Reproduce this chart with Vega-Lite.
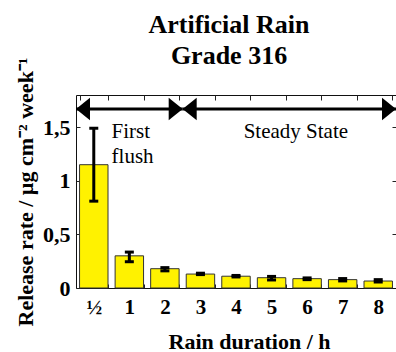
{
  "$schema": "https://vega.github.io/schema/vega-lite/v6.json",
  "width": 320,
  "height": 193,
  "autosize": "none",
  "padding": {"left": 76, "top": 95, "right": 0, "bottom": 64},
  "config": {
    "font": "Liberation Serif",
    "view": {"stroke": "#111", "strokeWidth": 1},
    "axis": {"grid": false, "domain": false, "tickColor": "#222", "labelColor": "#000", "titleColor": "#000"}
  },
  "title": {
    "text": ["Artificial Rain", "Grade 316"],
    "fontSize": 26,
    "fontWeight": "bold",
    "font": "Liberation Serif",
    "color": "#000",
    "lineHeight": 31,
    "anchor": "middle",
    "frame": "group",
    "dx": -7,
    "offset": -12
  },
  "datasets": {
    "rates": [
      {"duration": "½", "rate": 1.15, "lo": 0.81, "hi": 1.49},
      {"duration": "1", "rate": 0.3, "lo": 0.245, "hi": 0.335},
      {"duration": "2", "rate": 0.18, "lo": 0.16, "hi": 0.19},
      {"duration": "3", "rate": 0.13, "lo": 0.125, "hi": 0.138},
      {"duration": "4", "rate": 0.11, "lo": 0.103, "hi": 0.117},
      {"duration": "5", "rate": 0.096, "lo": 0.075, "hi": 0.108},
      {"duration": "6", "rate": 0.087, "lo": 0.078, "hi": 0.094},
      {"duration": "7", "rate": 0.078, "lo": 0.066, "hi": 0.088},
      {"duration": "8", "rate": 0.065, "lo": 0.056, "hi": 0.078}
    ],
    "phases": [
      {"phase": "First flush", "from": "½", "to": "2", "y": 1.67},
      {"phase": "Steady State", "from": "3", "to": "8", "y": 1.67}
    ]
  },
  "resolve": {"axis": {"x": "independent", "y": "independent"}},
  "layer": [
    {
      "data": {"name": "rates"},
      "mark": {"type": "bar", "fill": "#fff200", "stroke": "#333", "strokeWidth": 1},
      "encoding": {
        "x": {
          "field": "duration", "type": "ordinal",
          "scale": {"domain": ["½", "1", "2", "3", "4", "5", "6", "7", "8"], "paddingInner": 0.2, "paddingOuter": 0.1},
          "axis": {
            "orient": "bottom", "title": "Rain duration / h", "labelAngle": 0,
            "tickBand": "extent", "tickSize": -4,
            "labelFontSize": 21, "labelFontWeight": "bold", "labelPadding": 12,
            "titleFontSize": 22, "titleFontWeight": "bold",
            "titleX": 173, "titleY": 60, "titleBaseline": "alphabetic"
          }
        },
        "y": {
          "field": "rate", "type": "quantitative",
          "scale": {"domain": [0, 1.8], "nice": false},
          "axis": {
            "orient": "left", "title": "Release rate / µg cm⁻² week⁻¹",
            "values": [0, 0.5, 1, 1.5],
            "labelExpr": "replace(format(datum.value, '~g'), '.', ',')",
            "tickSize": -4, "labelPadding": 10,
            "labelFontSize": 22, "labelFontWeight": "bold",
            "titleFontSize": 22, "titleFontWeight": "bold",
            "titleX": -44, "titleY": 96.5, "titleBaseline": "alphabetic", "titleAngle": -90
          }
        }
      }
    },
    {
      "data": {"name": "rates"},
      "mark": {"type": "rule", "color": "#000", "strokeWidth": 3},
      "encoding": {
        "x": {
          "field": "duration", "type": "ordinal",
          "scale": {"domain": ["½", "1", "2", "3", "4", "5", "6", "7", "8"], "paddingInner": 0.2, "paddingOuter": 0.1},
          "axis": {"orient": "top", "labels": false, "title": null, "tickBand": "extent", "tickSize": -5}
        },
        "y": {
          "field": "lo", "type": "quantitative",
          "scale": {"domain": [0, 1.8], "nice": false},
          "axis": {"orient": "right", "labels": false, "title": null, "values": [0.5, 1, 1.5], "tickSize": -4}
        },
        "y2": {"field": "hi"}
      }
    },
    {
      "data": {"name": "rates"},
      "mark": {"type": "tick", "color": "#000", "size": 9, "thickness": 3, "opacity": 1},
      "encoding": {
        "x": {"field": "duration", "type": "ordinal", "scale": {"domain": ["½", "1", "2", "3", "4", "5", "6", "7", "8"], "paddingInner": 0.2, "paddingOuter": 0.1}, "axis": null},
        "y": {"field": "hi", "type": "quantitative", "scale": {"domain": [0, 1.8], "nice": false}, "axis": null}
      }
    },
    {
      "data": {"name": "rates"},
      "mark": {"type": "tick", "color": "#000", "size": 9, "thickness": 3, "opacity": 1},
      "encoding": {
        "x": {"field": "duration", "type": "ordinal", "scale": {"domain": ["½", "1", "2", "3", "4", "5", "6", "7", "8"], "paddingInner": 0.2, "paddingOuter": 0.1}, "axis": null},
        "y": {"field": "lo", "type": "quantitative", "scale": {"domain": [0, 1.8], "nice": false}, "axis": null}
      }
    },
    {
      "data": {"name": "phases"},
      "mark": {"type": "rule", "color": "#000", "strokeWidth": 3},
      "encoding": {
        "x": {"field": "from", "type": "ordinal", "bandPosition": -0.125, "scale": {"domain": ["½", "1", "2", "3", "4", "5", "6", "7", "8"], "paddingInner": 0.2, "paddingOuter": 0.1}, "axis": null},
        "x2": {"field": "to", "bandPosition": 1.125},
        "y": {"field": "y", "type": "quantitative", "scale": {"domain": [0, 1.8], "nice": false}, "axis": null}
      }
    },
    {
      "data": {"name": "phases"},
      "mark": {"type": "point", "shape": "M0,0L2,-1.6L2,1.6Z", "size": 196, "filled": true, "color": "#000", "opacity": 1},
      "encoding": {
        "x": {"field": "from", "type": "ordinal", "bandPosition": -0.125, "scale": {"domain": ["½", "1", "2", "3", "4", "5", "6", "7", "8"], "paddingInner": 0.2, "paddingOuter": 0.1}, "axis": null},
        "y": {"field": "y", "type": "quantitative", "scale": {"domain": [0, 1.8], "nice": false}, "axis": null}
      }
    },
    {
      "data": {"name": "phases"},
      "mark": {"type": "point", "shape": "M0,0L-2,-1.6L-2,1.6Z", "size": 196, "filled": true, "color": "#000", "opacity": 1},
      "encoding": {
        "x": {"field": "to", "type": "ordinal", "bandPosition": 1.125, "scale": {"domain": ["½", "1", "2", "3", "4", "5", "6", "7", "8"], "paddingInner": 0.2, "paddingOuter": 0.1}, "axis": null},
        "y": {"field": "y", "type": "quantitative", "scale": {"domain": [0, 1.8], "nice": false}, "axis": null}
      }
    },
    {
      "data": {"values": [{"note": "First\nflush", "at": "1", "y": 1.4}]},
      "mark": {"type": "text", "align": "left", "baseline": "alphabetic", "fontSize": 21, "lineBreak": "\n", "lineHeight": 25, "color": "#000"},
      "encoding": {
        "x": {"field": "at", "type": "ordinal", "bandPosition": -0.125, "scale": {"domain": ["½", "1", "2", "3", "4", "5", "6", "7", "8"], "paddingInner": 0.2, "paddingOuter": 0.1}, "axis": null},
        "y": {"field": "y", "type": "quantitative", "scale": {"domain": [0, 1.8], "nice": false}, "axis": null},
        "text": {"field": "note"}
      }
    },
    {
      "data": {"values": [{"note": "Steady State", "at": "6", "y": 1.4}]},
      "mark": {"type": "text", "align": "center", "baseline": "alphabetic", "fontSize": 21, "dx": 3, "color": "#000"},
      "encoding": {
        "x": {"field": "at", "type": "ordinal", "bandPosition": 0, "scale": {"domain": ["½", "1", "2", "3", "4", "5", "6", "7", "8"], "paddingInner": 0.2, "paddingOuter": 0.1}, "axis": null},
        "y": {"field": "y", "type": "quantitative", "scale": {"domain": [0, 1.8], "nice": false}, "axis": null},
        "text": {"field": "note"}
      }
    }
  ]
}
